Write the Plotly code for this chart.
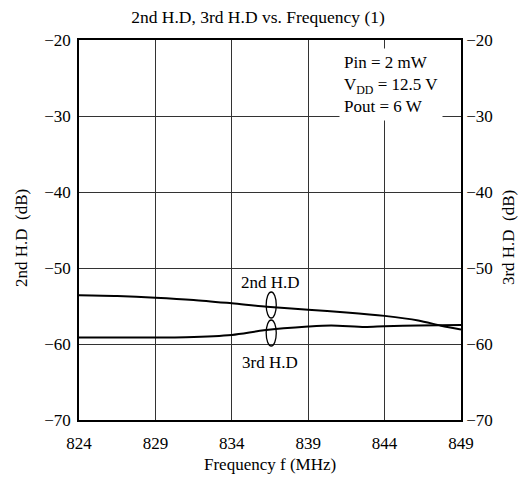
import plotly.graph_objects as go

freq_2nd = [824, 826.5, 829, 831.5, 834, 836.3, 839, 841.5, 844, 846.2, 847.7, 849]
hd2 = [-53.6, -53.7, -53.9, -54.2, -54.65, -55.1, -55.5, -55.85, -56.3, -56.9, -57.6, -58.1]

freq_3rd = [824, 826.5, 829, 831.0, 834, 836.1, 839, 840.5, 842.7, 844, 846.2, 849]
hd3 = [-59.15, -59.15, -59.15, -59.1, -58.8, -58.2, -57.7, -57.55, -57.75, -57.65, -57.55, -57.5]

x_ticks = [824, 829, 834, 839, 844, 849]
y_ticks = [-70, -60, -50, -40, -30, -20]

FONT = "Liberation Serif, Times New Roman, serif"
FS = 17

fig = go.Figure()
fig.add_trace(go.Scatter(x=freq_2nd, y=hd2, mode="lines", line=dict(color="black", width=2, shape="spline", smoothing=0.8),
                         showlegend=False, name="2nd H.D"))
fig.add_trace(go.Scatter(x=freq_3rd, y=hd3, mode="lines", line=dict(color="black", width=2, shape="spline", smoothing=0.8),
                         showlegend=False, name="3rd H.D", yaxis="y2"))

axis_common = dict(showline=True, linecolor="black", linewidth=1.5, ticks="",
                   tickfont=dict(family=FONT, size=FS, color="black"))

# page body adds an 8px offset, so the figure is drawn 8px smaller
fig.update_layout(
    width=518, height=475,
    margin=dict(l=71, r=65, t=32, b=63, autoexpand=False),
    paper_bgcolor="white", plot_bgcolor="white",
    font=dict(family=FONT, size=FS, color="black"),
    title=dict(text="2nd H.D, 3rd H.D vs. Frequency (1)", xref="paper", x=0.4686, xanchor="center",
               yref="container", y=0.981, yanchor="middle",
               font=dict(family=FONT, size=17.5, color="black")),
    xaxis=dict(range=[824, 849], tickvals=x_ticks, showgrid=True, gridcolor="#333", gridwidth=1,
               mirror=True, zeroline=False, ticklabelstandoff=7, **axis_common),
    yaxis=dict(range=[-70, -20], tickvals=y_ticks, showgrid=True, gridcolor="#333", gridwidth=1,
               mirror=True, zeroline=False, ticklabelstandoff=3, **axis_common),
    yaxis2=dict(range=[-70, -20], tickvals=y_ticks, overlaying="y", side="right", showgrid=False,
                zeroline=False, **axis_common),
)

# axis titles
fig.add_annotation(text="Frequency f (MHz)", xref="paper", yref="paper", x=0.5, y=-0.118,
                   xanchor="center", yanchor="middle", showarrow=False, font=dict(family=FONT, size=FS))
fig.add_annotation(text="2nd H.D  (dB)", xref="paper", yref="paper", x=-0.149, y=0.479,
                   xanchor="center", yanchor="middle",
                   textangle=-90, showarrow=False, font=dict(family=FONT, size=FS))
fig.add_annotation(text="3rd H.D  (dB)", xref="paper", yref="paper", x=1.126, y=0.479,
                   xanchor="center", yanchor="middle",
                   textangle=-90, showarrow=False, font=dict(family=FONT, size=FS))

# condition box
fig.add_annotation(text="Pin = 2 mW<br>V<sub>DD</sub> = 12.5 V<br>Pout = 6 W", xref="paper", yref="paper",
                   x=0.681, y=0.98, xanchor="left", yanchor="top", align="left", showarrow=False,
                   bgcolor="white", borderpad=4, font=dict(family=FONT, size=FS))

# curve labels
fig.add_annotation(text="2nd H.D", x=836.5, y=-51.9, showarrow=False, font=dict(family=FONT, size=FS))
fig.add_annotation(text="3rd H.D", x=836.5, y=-62.4, showarrow=False, font=dict(family=FONT, size=FS))

# bracket ellipses
fig.add_shape(type="circle", xref="x", yref="y", x0=836.25, x1=836.91, y0=-56.58, y1=-53.16,
              line=dict(color="black", width=1.3))
fig.add_shape(type="circle", xref="x", yref="y", x0=836.25, x1=836.91, y0=-60.26, y1=-56.84,
              line=dict(color="black", width=1.3))

fig.write_html("out.html")
